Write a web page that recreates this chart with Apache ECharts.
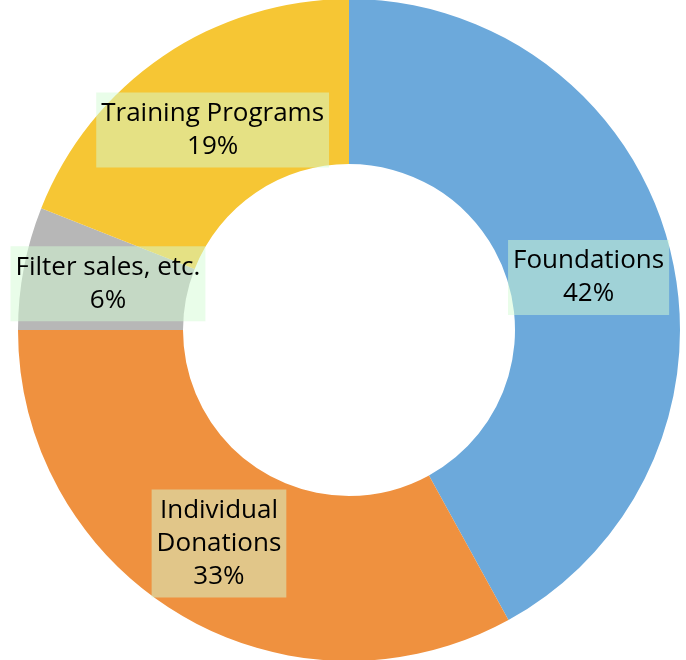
<!DOCTYPE html>
<html><head><meta charset="utf-8">
<script src="https://cdn.jsdelivr.net/npm/echarts@6/dist/echarts.min.js"></script>
<style>html,body{margin:0;padding:0;background:#fff}#c{width:686px;height:660px}</style>
</head><body><div id="c"></div>
<script>
const categories = ['Foundations', 'Individual\nDonations', 'Filter sales, etc.', 'Training Programs'];
const values = [42, 33, 6, 19];
const colors = ['#6CA9DB', '#EF913F', '#B7B7B7', '#F6C634'];
const labelOffsets = [[-4, 10], [-2, -3], [6, 1], [5, 8]];

const chart = echarts.init(document.getElementById('c'), null, {renderer: 'canvas'});
chart.setOption({
  animation: false,
  series: [{
    type: 'pie',
    center: [349, 330],
    radius: [166, 331],
    startAngle: 90,
    clockwise: true,
    avoidLabelOverlap: false,
    itemStyle: {borderWidth: 0},
    label: {
      show: true,
      position: 'inside',
      formatter: p => p.name + '\n' + p.value + '%',
      fontFamily: 'Open Sans',
      fontSize: 26,
      lineHeight: 33,
      color: '#000',
      backgroundColor: 'rgba(212,252,212,0.5)',
      padding: [5, 5, 4, 5],
      align: 'center'
    },
    labelLine: {show: false},
    data: categories.map((c, i) => ({name: c, value: values[i], itemStyle: {color: colors[i]}, label: {offset: labelOffsets[i]}}))
  }]
});
</script></body></html>
